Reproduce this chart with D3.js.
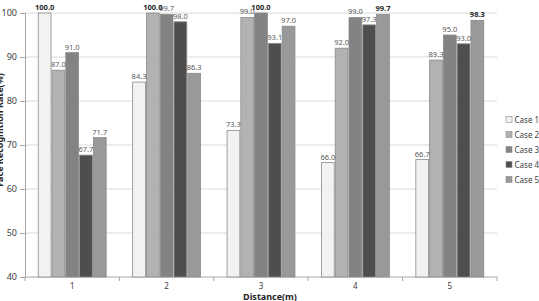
<!DOCTYPE html>
<html>
<head>
<meta charset="utf-8">
<script src="https://cdn.jsdelivr.net/npm/d3@7"></script>
<style>
  body { margin: 0; background: #fff; }
  text { font-family: "Noto Sans", "DejaVu Sans", sans-serif; }
</style>
</head>
<body>
<div class="d3"></div>
<script>
const distances = ['1', '2', '3', '4', '5'];
const cases = ['Case 1', 'Case 2', 'Case 3', 'Case 4', 'Case 5'];
const case1 = [100.0, 84.3, 73.3, 66.0, 66.7];
const case2 = [87.0, 100.0, 99.0, 92.0, 89.3];
const case3 = [91.0, 99.7, 100.0, 99.0, 95.0];
const case4 = [67.7, 98.0, 93.1, 97.3, 93.0];
const case5 = [71.7, 86.3, 97.0, 99.7, 98.3];
const yTicks = [40, 50, 60, 70, 80, 90, 100];

const series = [case1, case2, case3, case4, case5];
const colors = ['#f2f2f2', '#b2b2b2', '#838383', '#4e4e4e', '#999999'];

let width = 539;
let height = 301;
let margin = { left: 25, right: 42, top: 13, bottom: 24 };

let svg = d3.select('.d3')
  .append('svg')
  .attr('width', width)
  .attr('height', height);

let x0 = d3.scaleBand()
  .domain(distances)
  .range([margin.left, width - margin.right])
  .paddingInner(0.27)
  .paddingOuter(0.135);

let x1 = d3.scaleBand()
  .domain(cases)
  .range([0, x0.bandwidth()]);

let y = d3.scaleLinear()
  .domain([40, 100])
  .range([height - margin.bottom, margin.top]);

// gridlines
svg.append('g')
  .selectAll('line')
  .data(yTicks.slice(1))
  .enter()
  .append('line')
  .attr('x1', margin.left)
  .attr('x2', width - margin.right)
  .attr('y1', d => y(d))
  .attr('y2', d => y(d))
  .attr('stroke', '#d9d9d9')
  .attr('stroke-width', 1);

// y axis
let yAxis = svg.append('g')
  .attr('transform', `translate(${margin.left},0)`)
  .call(d3.axisLeft(y).tickValues(yTicks).tickSize(5).tickPadding(3).tickFormat(d3.format('d')));
yAxis.select('.domain').attr('stroke', '#a6a6a6');
yAxis.selectAll('.tick line').attr('stroke', '#a6a6a6');
yAxis.selectAll('.tick text').attr('font-size', 9).attr('fill', '#404040')
  .style('font-family', '"Noto Sans", sans-serif');

// x axis
let boundaries = distances.map(d => x0(d) - x0.step() * x0.paddingInner() / 2);
boundaries.push(width - margin.right);
let xAxis = svg.append('g');
xAxis.append('line')
  .attr('x1', margin.left)
  .attr('x2', width - margin.right)
  .attr('y1', y(40))
  .attr('y2', y(40))
  .attr('stroke', '#a6a6a6');
xAxis.selectAll('.tk')
  .data(boundaries)
  .enter()
  .append('line')
  .attr('x1', d => d)
  .attr('x2', d => d)
  .attr('y1', y(40))
  .attr('y2', y(40) + 4)
  .attr('stroke', '#a6a6a6');
xAxis.selectAll('text')
  .data(distances)
  .enter()
  .append('text')
  .attr('x', d => x0(d) + x0.bandwidth() / 2)
  .attr('y', 288.5)
  .attr('text-anchor', 'middle')
  .attr('font-size', 8)
  .attr('fill', '#404040')
  .text(d => d);

// bars
let groups = svg.append('g')
  .selectAll('g')
  .data(distances)
  .enter()
  .append('g')
  .attr('transform', d => `translate(${x0(d)},0)`);

groups.each(function(d, i) {
  let vals = series.map(s => s[i]);
  let maxVal = d3.max(vals);
  let g = d3.select(this);
  g.selectAll('rect')
    .data(vals)
    .enter()
    .append('rect')
    .attr('x', (v, j) => x1(cases[j]) + 0.5)
    .attr('y', v => y(v))
    .attr('width', x1.bandwidth() - 1)
    .attr('height', v => y(40) - y(v))
    .attr('fill', (v, j) => colors[j])
    .attr('stroke', '#8a8a8a')
    .attr('stroke-width', 0.8);
  g.selectAll('text')
    .data(vals)
    .enter()
    .append('text')
    .attr('x', (v, j) => x1(cases[j]) + x1.bandwidth() / 2)
    .attr('y', v => y(v) - 3)
    .attr('text-anchor', 'middle')
    .attr('font-size', 7.5)
    .attr('font-weight', v => v === maxVal ? 'bold' : 'normal')
    .attr('fill', v => v === maxVal ? '#262626' : '#595959')
    .text(v => v.toFixed(1));
});

// axis titles (left one is clipped by the edge, as in the original)
svg.append('text')
  .attr('transform', 'translate(3,130) rotate(-90)')
  .attr('text-anchor', 'middle')
  .attr('font-size', 9)
  .attr('font-weight', 'bold')
  .attr('fill', '#262626')
  .text('Face Recognition Rate(%)');

svg.append('text')
  .attr('x', 270)
  .attr('y', 299.5)
  .attr('text-anchor', 'middle')
  .attr('font-size', 9)
  .attr('font-weight', 'bold')
  .attr('fill', '#262626')
  .text('Distance(m)');

// legend
let legend = svg.append('g')
  .selectAll('g')
  .data(cases)
  .enter()
  .append('g')
  .attr('transform', (d, i) => `translate(506,${120 + i * 15})`);
legend.append('rect')
  .attr('x', 0)
  .attr('y', -3.5)
  .attr('width', 6)
  .attr('height', 6)
  .attr('fill', (d, i) => colors[i])
  .attr('stroke', '#8a8a8a')
  .attr('stroke-width', 0.6);
legend.append('text')
  .attr('x', 8.5)
  .attr('y', 2.8)
  .attr('font-size', 8)
  .attr('fill', '#404040')
  .text(d => d);
</script>
</body>
</html>
